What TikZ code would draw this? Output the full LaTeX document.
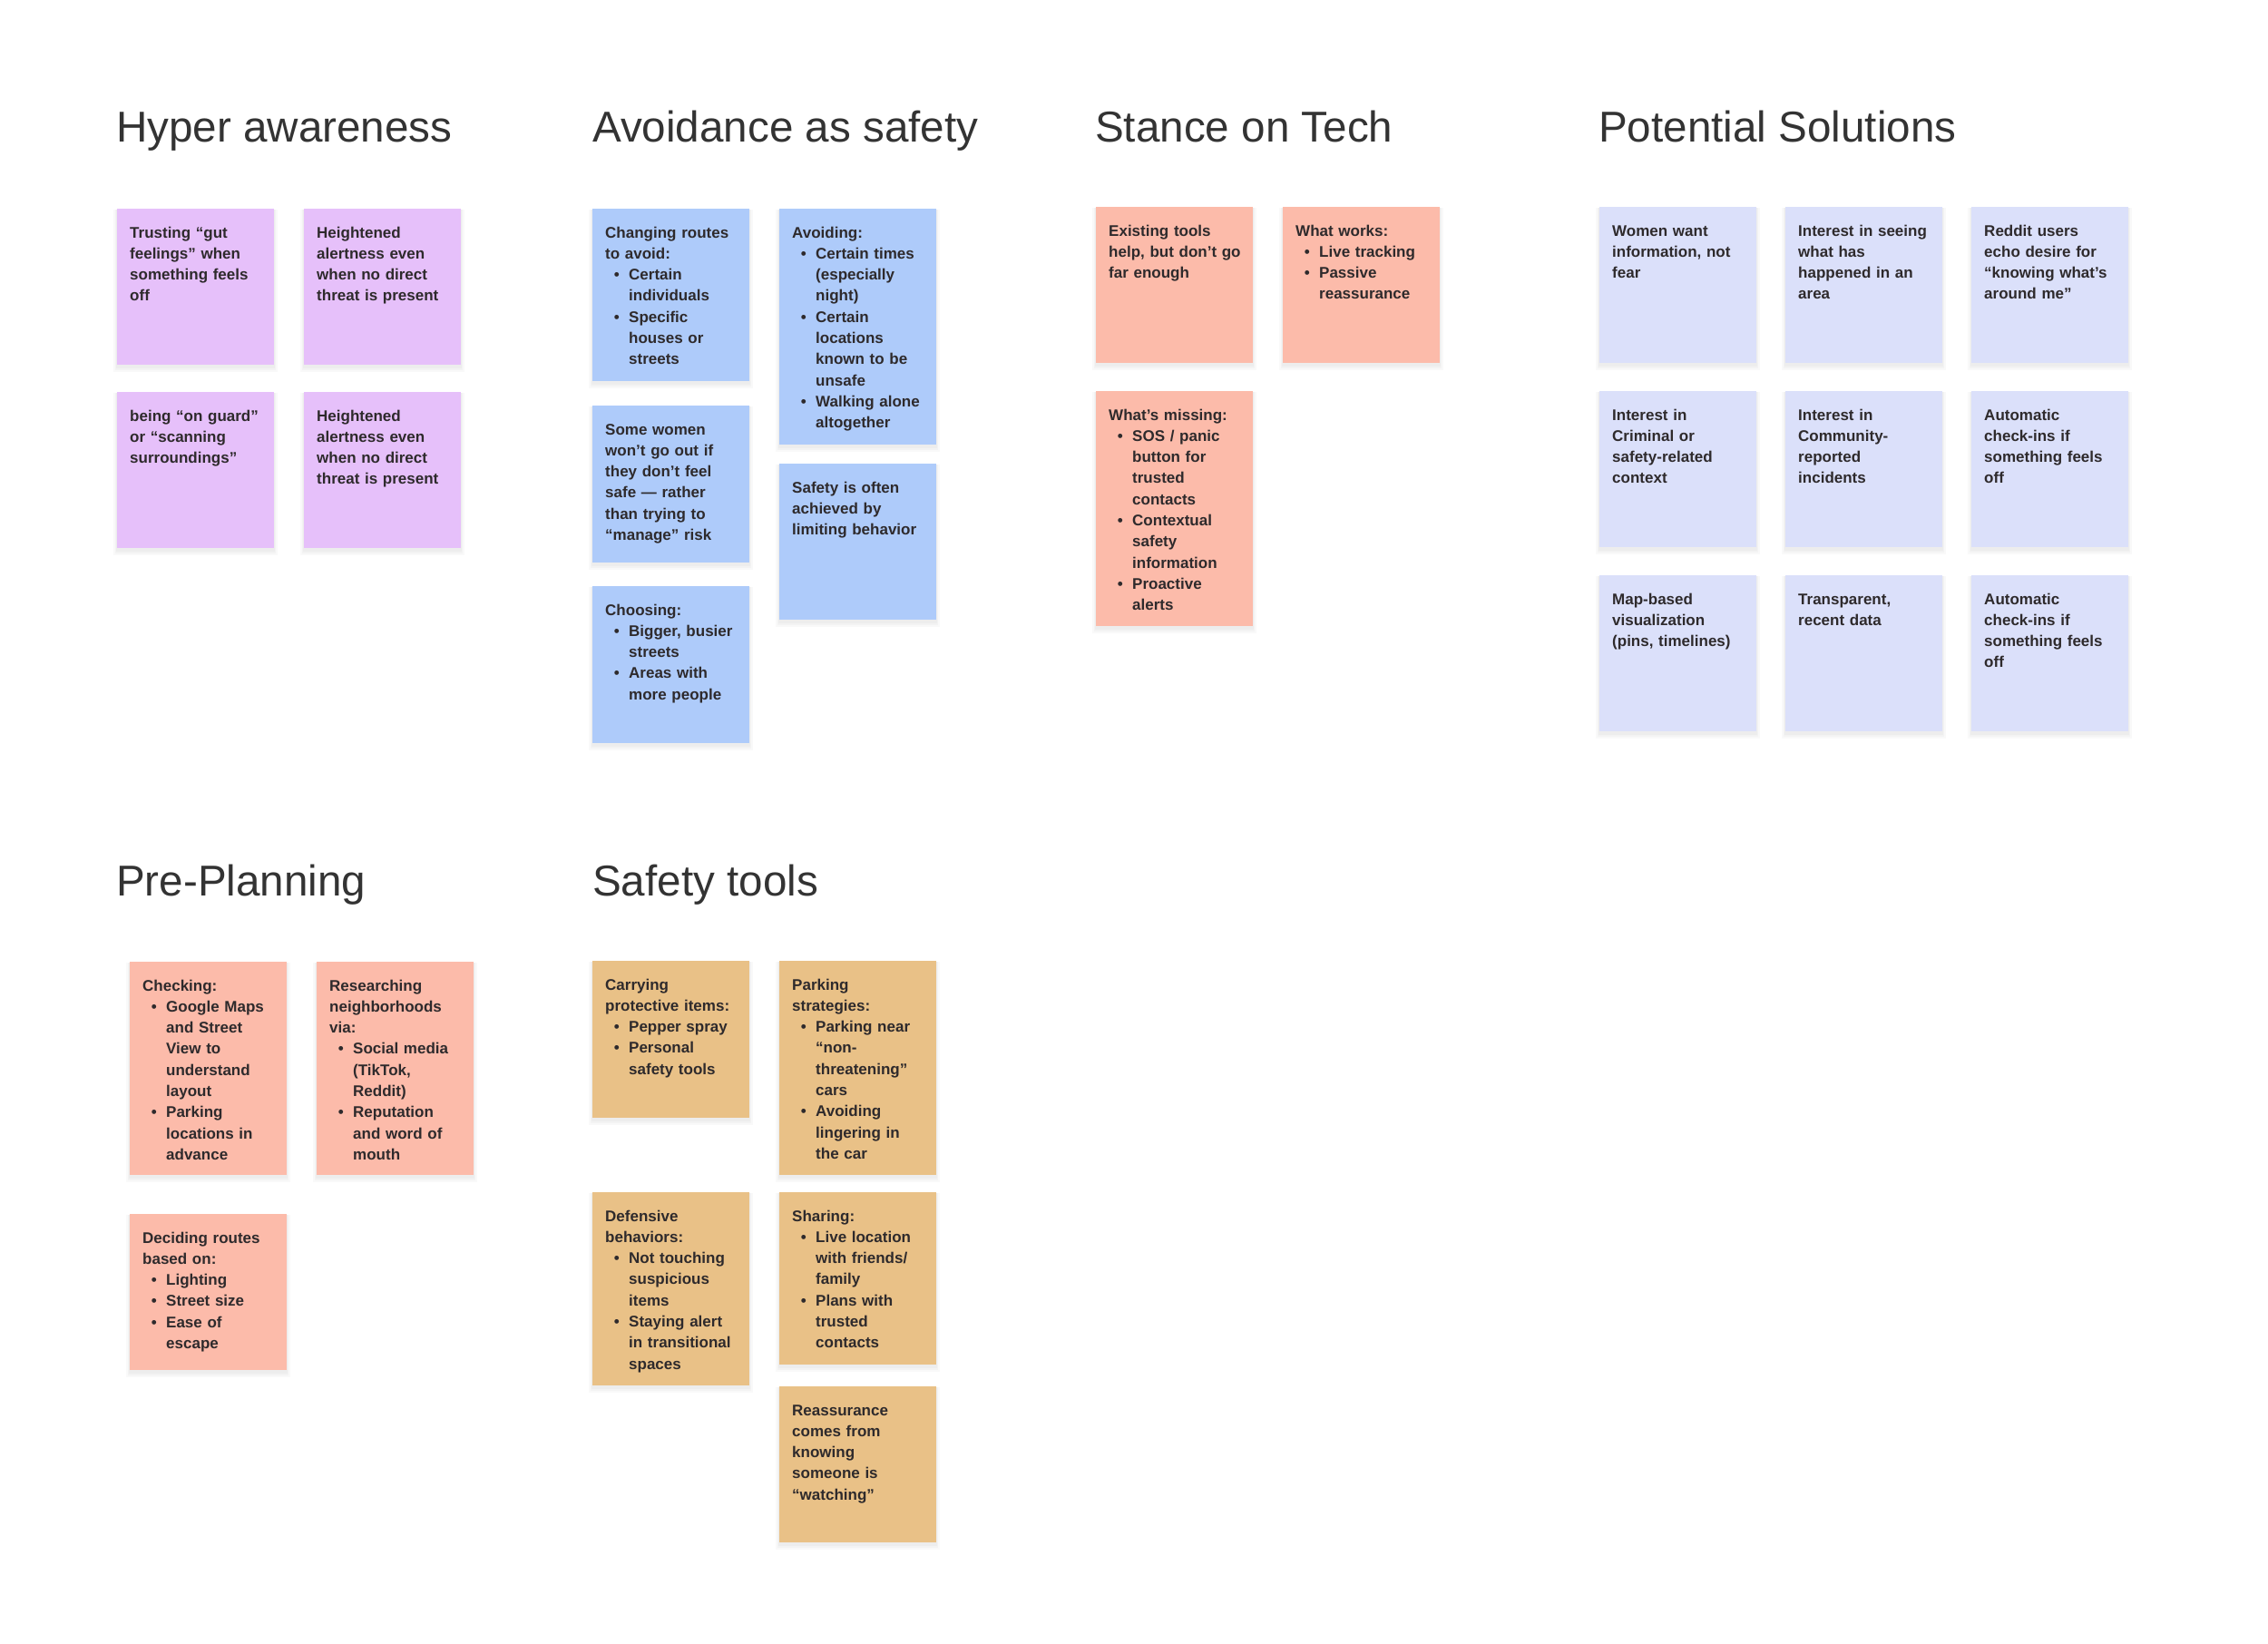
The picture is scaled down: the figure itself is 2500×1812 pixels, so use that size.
\documentclass[tikz,border=0pt]{standalone}
\usepackage{fontspec}
\setmainfont{Liberation Sans}
\usetikzlibrary{calc}
\definecolor{cpurple}{HTML}{E6C0FA}
\definecolor{cblue}{HTML}{AECBFA}
\definecolor{csalmon}{HTML}{FCBBAA}
\definecolor{ctan}{HTML}{E9C187}
\definecolor{cperi}{HTML}{DBE0FA}
\definecolor{ctext}{HTML}{2E2A2C}
\definecolor{ctitle}{HTML}{333333}
\newcommand\bitem{\hspace*{26pt}\llap{•\hspace{10.5pt}}}
\newcommand\bcont{\hspace*{26pt}}
\tikzset{
  notebox/.style={rectangle,draw=none,inner sep=0pt,minimum width=173pt,anchor=north west},
  notetxt/.style={inner sep=0pt,align=left,text width=155pt,text=ctext,
    font=\fontsize{17}{23.3}\selectfont\bfseries,anchor=base west},
  heading/.style={inner sep=0pt,anchor=base west,text=ctitle,font=\fontsize{47.6}{56}\selectfont},
  noteshadow/.style={fill=black,opacity=0.025}
}
\newcommand\sticky[6]{%
  \fill[noteshadow] (#2-4,#3+1) rectangle ++(181,#4+7);
  \fill[noteshadow] (#2-2,#3+1) rectangle ++(177,#4+5);
  \fill[noteshadow] (#2-1,#3+1) rectangle ++(175,#4+3);
  \node[notebox,fill=#5,minimum height=#4pt] (#1) at (#2,#3) {};
  \node[notetxt] (#1t) at ($(#1.north west)+(14,32)$) {#6};
}
\begin{document}
\begin{tikzpicture}[x=1pt,y=-1pt]
\useasboundingbox[fill=white] (0,0) rectangle (2500,1812);
% titles
\node[heading] (th) at (128,156) {Hyper awareness};
\node[heading] (ta) at (653,156) {Avoidance as safety};
\node[heading] (ts) at (1207,156) {Stance on Tech};
\node[heading] (tp) at (1762,156) {Potential Solutions};
\node[heading] (tpp) at (128,987) {Pre-Planning};
\node[heading] (tt) at (653,987) {Safety tools};
% Hyper awareness
\sticky{h1}{129}{230}{172}{cpurple}{Trusting “gut\\feelings” when\\something feels\\off}
\sticky{h2}{335}{230}{172}{cpurple}{Heightened\\alertness even\\when no direct\\threat is present}
\sticky{h3}{129}{432}{172}{cpurple}{being “on guard”\\or “scanning\\surroundings”}
\sticky{h4}{335}{432}{172}{cpurple}{Heightened\\alertness even\\when no direct\\threat is present}
% Avoidance as safety
\sticky{a1}{653}{230}{190}{cblue}{Changing routes\\to avoid:\\\bitem Certain\\\bcont individuals\\\bitem Specific\\\bcont houses or\\\bcont streets}
\sticky{a2}{653}{447}{173}{cblue}{Some women\\won’t go out if\\they don’t feel\\safe — rather\\than trying to\\“manage” risk}
\sticky{a3}{653}{646}{173}{cblue}{Choosing:\\\bitem Bigger, busier\\\bcont streets\\\bitem Areas with\\\bcont more people}
\sticky{a4}{859}{230}{260}{cblue}{Avoiding:\\\bitem Certain times\\\bcont (especially\\\bcont night)\\\bitem Certain\\\bcont locations\\\bcont known to be\\\bcont unsafe\\\bitem Walking alone\\\bcont altogether}
\sticky{a5}{859}{511}{172}{cblue}{Safety is often\\achieved by\\limiting behavior}
% Stance on Tech
\sticky{s1}{1208}{228}{172}{csalmon}{Existing tools\\help, but don’t go\\far enough}
\sticky{s2}{1414}{228}{172}{csalmon}{What works:\\\bitem Live tracking\\\bitem Passive\\\bcont reassurance}
\sticky{s3}{1208}{431}{259}{csalmon}{What’s missing:\\\bitem SOS / panic\\\bcont button for\\\bcont trusted\\\bcont contacts\\\bitem Contextual\\\bcont safety\\\bcont information\\\bitem Proactive\\\bcont alerts}
% Potential Solutions
\sticky{p1}{1763}{228}{172}{cperi}{Women want\\information, not\\fear}
\sticky{p2}{1968}{228}{172}{cperi}{Interest in seeing\\what has\\happened in an\\area}
\sticky{p3}{2173}{228}{172}{cperi}{Reddit users\\echo desire for\\“knowing what’s\\around me”}
\sticky{p4}{1763}{431}{172}{cperi}{Interest in\\Criminal or\\safety-related\\context}
\sticky{p5}{1968}{431}{172}{cperi}{Interest in\\Community-\\reported\\incidents}
\sticky{p6}{2173}{431}{172}{cperi}{Automatic\\check-ins if\\something feels\\off}
\sticky{p7}{1763}{634}{172}{cperi}{Map-based\\visualization\\(pins, timelines)}
\sticky{p8}{1968}{634}{172}{cperi}{Transparent,\\recent data}
\sticky{p9}{2173}{634}{172}{cperi}{Automatic\\check-ins if\\something feels\\off}
% Pre-Planning
\sticky{pp1}{143}{1060}{235}{csalmon}{Checking:\\\bitem Google Maps\\\bcont and Street\\\bcont View to\\\bcont understand\\\bcont layout\\\bitem Parking\\\bcont locations in\\\bcont advance}
\sticky{pp2}{349}{1060}{235}{csalmon}{Researching\\neighborhoods\\via:\\\bitem Social media\\\bcont (TikTok,\\\bcont Reddit)\\\bitem Reputation\\\bcont and word of\\\bcont mouth}
\sticky{pp3}{143}{1338}{172}{csalmon}{Deciding routes\\based on:\\\bitem Lighting\\\bitem Street size\\\bitem Ease of\\\bcont escape}
% Safety tools
\sticky{t1}{653}{1059}{173}{ctan}{Carrying\\protective items:\\\bitem Pepper spray\\\bitem Personal\\\bcont safety tools}
\sticky{t2}{859}{1059}{236}{ctan}{Parking\\strategies:\\\bitem Parking near\\\bcont “non-\\\bcont threatening”\\\bcont cars\\\bitem Avoiding\\\bcont lingering in\\\bcont the car}
\sticky{t3}{653}{1314}{213}{ctan}{Defensive\\behaviors:\\\bitem Not touching\\\bcont suspicious\\\bcont items\\\bitem Staying alert\\\bcont in transitional\\\bcont spaces}
\sticky{t4}{859}{1314}{190}{ctan}{Sharing:\\\bitem Live location\\\bcont with friends/\\\bcont family\\\bitem Plans with\\\bcont trusted\\\bcont contacts}
\sticky{t5}{859}{1528}{172}{ctan}{Reassurance\\comes from\\knowing\\someone is\\“watching”}
\end{tikzpicture}
\end{document}
